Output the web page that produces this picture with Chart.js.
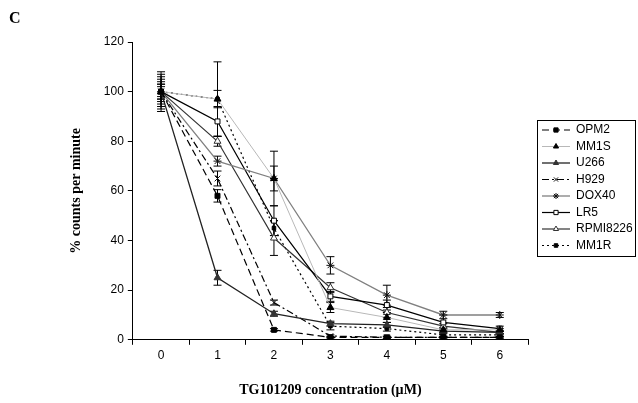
<!DOCTYPE html>
<html>
<head>
<meta charset="utf-8">
<script src="https://cdn.jsdelivr.net/npm/chart.js@4"></script>
<style>
  html, body { margin: 0; padding: 0; background: #fff; }
  canvas { display: block; }
</style>
</head>
<body>
<canvas id="chart" width="638" height="403"></canvas>
<script>
// concentrations (uM)
const doses = ['0', '1', '2', '3', '4', '5', '6'];
const yTicks = [0, 20, 40, 60, 80, 100, 120];

// % counts per minute, per cell line
const opm2     = [100, 58, 4, 1, 1, 1, 1];
const mm1s     = [100, 97, 65, 13, 9, 4, 4];
const u266     = [100, 25, 10.5, 6.5, 6, 3.5, 3];
const h929     = [100, 65, 15, 1.5, 1, 1, 1];
const dox40    = [100, 72, 65, 30, 18, 10, 10];
const lr5      = [100, 88, 48, 17.5, 14, 7, 4.5];
const rpmi8226 = [100, 80, 41, 21, 11, 5.5, 3];
const mm1r     = [100, 97, 45, 5.5, 4.5, 2, 2];

// error bar half-widths
const opm2Err     = [3, 2.5, 0.5, 0.3, 0.3, 0.3, 0.3];
const mm1sErr     = [8, 15, 11, 2, 2, 1, 0.5];
const u266Err     = [5, 3, 1, 1, 1, 0.5, 0.5];
const h929Err     = [4, 3, 1, 0.5, 0.5, 0.3, 0.3];
const dox40Err    = [6, 2, 5, 3.5, 4, 1.5, 1];
const lr5Err      = [2, 6, 6, 2, 2, 3, 1];
const rpmi8226Err = [7, 2, 7, 2, 2, 1, 0.5];
const mm1rErr     = [3, 3.5, 3, 1.5, 1, 0.5, 0.5];

function series(label, data, err, color, width, dash, style, fill, radius) {
  return {
    label: label,
    data: data,
    errors: err,
    borderColor: color,
    borderWidth: width,
    borderDash: dash,
    pointStyle: style,
    pointRadius: radius,
    pointBackgroundColor: fill,
    pointBorderColor: style === 'crossRot' || style === 'star' ? '#111' : (fill === '#fff' ? color : fill),
    pointBorderWidth: 1,
    tension: 0,
    fill: false
  };
}

const datasets = [
  series('OPM2', opm2, opm2Err, '#000', 1.2, [7, 4], 'rect', '#000', 3.5),
  series('MM1S', mm1s, mm1sErr, '#b8b8b8', 1, [], 'triangle', '#000', 4),
  series('U266', u266, u266Err, '#222', 1.3, [], 'triangle', '#333', 4),
  series('H929', h929, h929Err, '#000', 1.2, [7, 3, 2, 3], 'crossRot', '#000', 4),
  series('DOX40', dox40, dox40Err, '#808080', 1.3, [], 'star', '#333', 4),
  series('LR5', lr5, lr5Err, '#000', 1.2, [], 'rect', '#fff', 3.5),
  series('RPMI8226', rpmi8226, rpmi8226Err, '#333', 1.2, [], 'triangle', '#fff', 4),
  series('MM1R', mm1r, mm1rErr, '#000', 1.2, [2, 3], 'rect', '#000', 2.5)
];

// vertical error bars with caps
const errorBars = {
  id: 'errorBars',
  beforeDatasetsDraw(chart) {
    const ctx = chart.ctx;
    const y = chart.scales.y;
    ctx.save();
    ctx.strokeStyle = '#000';
    ctx.lineWidth = 1;
    chart.data.datasets.forEach((ds, i) => {
      const meta = chart.getDatasetMeta(i);
      meta.data.forEach((pt, j) => {
        const e = ds.errors[j];
        const top = y.getPixelForValue(ds.data[j] + e);
        const bot = y.getPixelForValue(Math.max(0, ds.data[j] - e));
        ctx.beginPath();
        ctx.moveTo(pt.x, top); ctx.lineTo(pt.x, bot);
        ctx.moveTo(pt.x - 4, top); ctx.lineTo(pt.x + 4, top);
        ctx.moveTo(pt.x - 4, bot); ctx.lineTo(pt.x + 4, bot);
        ctx.stroke();
      });
    });
    ctx.restore();
  }
};

// boxed legend on the right, plus the panel letter
const sideLegend = {
  id: 'sideLegend',
  afterDraw(chart) {
    const ctx = chart.ctx;
    const left = 537, top = 120, rowH = 16.5, w = 98;
    const n = chart.data.datasets.length;
    ctx.save();
    ctx.strokeStyle = '#000';
    ctx.lineWidth = 1;
    ctx.strokeRect(left + 0.5, top + 0.5, w, rowH * n + 4);
    ctx.font = '12px "Liberation Sans", Arial, sans-serif';
    ctx.textBaseline = 'middle';
    chart.data.datasets.forEach((ds, i) => {
      const cy = top + 10 + i * rowH;
      ctx.strokeStyle = ds.borderColor;
      ctx.lineWidth = ds.borderWidth;
      ctx.setLineDash(ds.borderDash);
      ctx.beginPath();
      ctx.moveTo(left + 5, cy); ctx.lineTo(left + 33, cy);
      ctx.stroke();
      ctx.setLineDash([]);
      ctx.fillStyle = ds.pointBackgroundColor;
      ctx.strokeStyle = ds.pointBorderColor;
      ctx.lineWidth = 1;
      Chart.helpers.drawPoint(ctx, {
        pointStyle: ds.pointStyle,
        radius: Math.min(ds.pointRadius, 3),
        rotation: 0,
        borderWidth: 1
      }, left + 19, cy);
      ctx.fillStyle = '#000';
      ctx.fillText(ds.label, left + 39, cy);
    });
    ctx.font = 'bold 16px "Liberation Serif", "Times New Roman", serif';
    ctx.fillStyle = '#000';
    ctx.textBaseline = 'alphabetic';
    ctx.fillText('C', 9, 23);
    ctx.restore();
  }
};

const tickFont = { family: '"Liberation Sans", Arial, sans-serif', size: 12 };
const titleFont = { family: '"Liberation Serif", "Times New Roman", serif', size: 14, weight: 'bold' };

new Chart(document.getElementById('chart'), {
  type: 'line',
  data: { labels: doses, datasets: datasets },
  options: {
    responsive: false,
    devicePixelRatio: 1,
    animation: false,
    layout: { padding: { left: 68, right: 110, top: 42, bottom: 2 } },
    plugins: {
      legend: { display: false },
      tooltip: { enabled: false }
    },
    scales: {
      x: {
        type: 'category',
        offset: true,
        grid: { offset: true, drawOnChartArea: false, tickLength: 5, color: '#000' },
        border: { color: '#000', width: 1 },
        ticks: { color: '#000', font: tickFont, padding: 4 },
        title: {
          display: true,
          text: 'TG101209 concentration (\u00b5M)',
          color: '#000',
          font: titleFont,
          padding: { top: 15, bottom: 2 }
        }
      },
      y: {
        min: yTicks[0],
        max: yTicks[yTicks.length - 1],
        afterBuildTicks(scale) { scale.ticks = yTicks.map(v => ({ value: v })); },
        grid: { drawOnChartArea: false, tickLength: 5, color: '#000' },
        border: { color: '#000', width: 1 },
        ticks: { color: '#000', font: tickFont, padding: 4 },
        title: {
          display: true,
          text: '% counts per minute',
          color: '#000',
          font: titleFont,
          padding: { top: 0, bottom: 15 }
        }
      }
    }
  },
  plugins: [errorBars, sideLegend]
});
</script>
</body>
</html>
